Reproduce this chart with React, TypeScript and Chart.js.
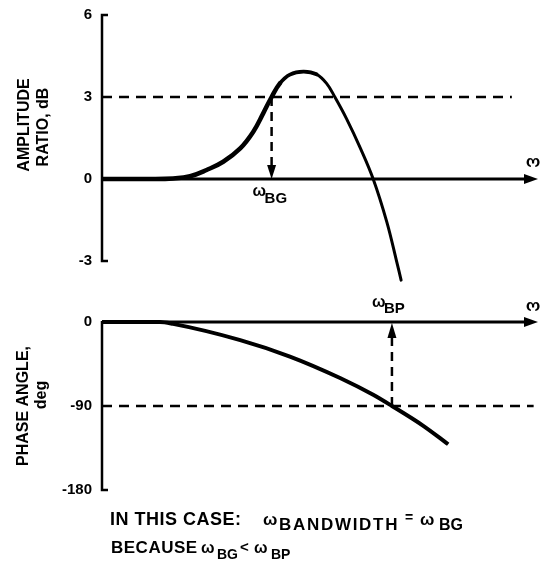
import { useEffect, useRef } from "react";
import { Chart, registerables } from "chart.js";

Chart.register(...registerables);

// ---- data ----
const omegaAmp = [0, 11.0, 16.3, 20.2, 24.0, 27.8, 31.7, 34.7, 37.0, 38.9, 40.8, 43.1, 46.2, 49.2, 51.5, 53.4, 56.1, 59.2, 62.2, 65.3, 67.6, 68.6];
const amplitudeDb = [0, 0, 0.02, 0.1, 0.33, 0.63, 1.12, 1.73, 2.41, 3.0, 3.5, 3.82, 3.93, 3.83, 3.5, 3.0, 2.2, 1.15, 0, -1.56, -3.03, -3.7];
const omegaPhase = [0, 13.3, 16.3, 31.7, 43.1, 54.6, 62.2, 66.5, 73.6, 79.4];
const phaseDeg = [0, 0, -2, -19.4, -37, -60, -78, -90, -111, -131];
const ampTicks = [6, 3, 0, -3];
const phaseTicks = [0, -90, -180];
const omegaBG = 38.9;
const omegaBP = 66.5;
const ampRef = 3;
const phaseRef = -90;
const ampRefEnd = 94;
const phaseRefEnd = 99;
const omegaMax = 100;

const FONT = "'Liberation Sans', Arial, Helvetica, sans-serif";
const TOP_OFFSET = 0;
const BOT_OFFSET = 290;

function tri(ctx: CanvasRenderingContext2D, tx: number, ty: number, dx: number, dy: number, len: number, half: number) {
  const bx = tx - dx * len;
  const by = ty - dy * len;
  const px = -dy;
  const py = dx;
  ctx.beginPath();
  ctx.moveTo(tx, ty);
  ctx.lineTo(bx + px * half, by + py * half);
  ctx.lineTo(bx - px * half, by - py * half);
  ctx.closePath();
  ctx.fill();
}

function rotText(ctx: CanvasRenderingContext2D, text: string, x: number, y: number, angle: number, size: number, baseline: CanvasTextBaseline = "alphabetic") {
  ctx.save();
  ctx.translate(x, y);
  ctx.rotate(angle);
  ctx.font = `bold ${size}px ${FONT}`;
  ctx.textAlign = "center";
  ctx.textBaseline = baseline;
  ctx.fillText(text, 0, 0);
  ctx.restore();
}

function txt(ctx: CanvasRenderingContext2D, s: string, x: number, y: number, size: number, ls = 0) {
  ctx.save();
  ctx.font = `bold ${size}px ${FONT}`;
  ctx.textAlign = "left";
  ctx.textBaseline = "alphabetic";
  (ctx as any).letterSpacing = `${ls}px`;
  ctx.fillText(s, x, y);
  ctx.restore();
}

function yAxis(ctx: CanvasRenderingContext2D, x: number, yTop: number, yBot: number, stubTop: boolean) {
  ctx.save();
  ctx.strokeStyle = "#000";
  ctx.lineWidth = 2.5;
  ctx.lineCap = "butt";
  ctx.beginPath();
  if (stubTop) {
    ctx.moveTo(x + 6, yTop);
    ctx.lineTo(x, yTop);
  } else {
    ctx.moveTo(x, yTop);
  }
  ctx.lineTo(x, yBot);
  ctx.lineTo(x + 6, yBot);
  ctx.stroke();
  ctx.restore();
}

function makeOptions(yMin: number, yMax: number, ticks: number[], padding: any) {
  return {
    responsive: false,
    maintainAspectRatio: false,
    animation: false as const,
    layout: { padding },
    plugins: { legend: { display: false }, tooltip: { enabled: false }, title: { display: false } },
    elements: { point: { radius: 0 } },
    scales: {
      x: { type: "linear" as const, min: 0, max: omegaMax, display: false },
      y: {
        type: "linear" as const,
        min: yMin,
        max: yMax,
        afterBuildTicks: (s: any) => {
          s.ticks = ticks.map((v) => ({ value: v }));
        },
        afterFit: (s: any) => {
          s.width = 102;
          s.paddingTop = 0;
          s.paddingBottom = 0;
        },
        grid: { display: false, drawTicks: false },
        border: { display: false },
        ticks: {
          color: "#000",
          padding: 10,
          font: { family: FONT, size: 15, weight: "bold" as const },
          callback: (v: any) => String(v),
        },
      },
    },
  };
}

const topPlugin = {
  id: "topDecor",
  afterDatasetsDraw(chart: any) {
    const ctx: CanvasRenderingContext2D = chart.ctx;
    const xs = chart.scales.x;
    const ys = chart.scales.y;
    const x0 = xs.getPixelForValue(0);
    const y0 = ys.getPixelForValue(0);
    ctx.save();
    ctx.fillStyle = "#000";
    yAxis(ctx, x0, ys.getPixelForValue(6), ys.getPixelForValue(-3), true);
    tri(ctx, xs.getPixelForValue(omegaMax), y0, 1, 0, 14, 5);
    tri(ctx, xs.getPixelForValue(omegaBG), y0, 0, 1, 14, 4.5);
    rotText(ctx, "ω", xs.getPixelForValue(omegaMax) - 5, y0 - 16, Math.PI, 17, "middle");
    const xb = xs.getPixelForValue(omegaBG);
    txt(ctx, "ω", xb - 19, y0 + 17, 16);
    txt(ctx, "BG", xb - 7, y0 + 24, 15);
    rotText(ctx, "AMPLITUDE", 29, 125 - TOP_OFFSET, -Math.PI / 2, 16);
    rotText(ctx, "RATIO, dB", 48, 127 - TOP_OFFSET, -Math.PI / 2, 16);
    ctx.restore();
  },
};

const botPlugin = {
  id: "botDecor",
  afterDatasetsDraw(chart: any) {
    const ctx: CanvasRenderingContext2D = chart.ctx;
    const xs = chart.scales.x;
    const ys = chart.scales.y;
    const x0 = xs.getPixelForValue(0);
    const y0 = ys.getPixelForValue(0);
    ctx.save();
    ctx.fillStyle = "#000";
    yAxis(ctx, x0, y0 - 1, ys.getPixelForValue(-180), false);
    tri(ctx, xs.getPixelForValue(omegaMax), y0, 1, 0, 14, 5);
    tri(ctx, xs.getPixelForValue(omegaBP), y0 + 1, 0, -1, 15, 4.5);
    rotText(ctx, "ω", xs.getPixelForValue(omegaMax) - 5, y0 - 15, Math.PI, 17, "middle");
    const xb = xs.getPixelForValue(omegaBP);
    txt(ctx, "ω", xb - 20, y0 - 15, 16);
    txt(ctx, "BP", xb - 8, y0 - 9, 15);
    rotText(ctx, "PHASE ANGLE,", 28, 406 - BOT_OFFSET, -Math.PI / 2, 16);
    rotText(ctx, "deg", 46, 395 - BOT_OFFSET, -Math.PI / 2, 16);
    // caption
    const l1 = 525 - BOT_OFFSET;
    const l2 = 553 - BOT_OFFSET;
    txt(ctx, "IN THIS CASE:", 110, l1, 18, 0.5);
    txt(ctx, "ω", 263, l1, 17);
    txt(ctx, "BANDWIDTH", 279, l1 + 5, 17, 1.7);
    txt(ctx, "=", 405, l1 - 3, 14);
    txt(ctx, "ω", 420, l1, 17);
    txt(ctx, "BG", 439, l1 + 5, 16);
    txt(ctx, "BECAUSE", 111, l2, 17, 0.5);
    txt(ctx, "ω", 201, l2, 16);
    txt(ctx, "BG", 217, l2 + 6, 14);
    txt(ctx, "<", 240, l2 - 1, 15);
    txt(ctx, "ω", 254, l2, 16);
    txt(ctx, "BP", 271, l2 + 6, 14);
    ctx.restore();
  },
};

function pts(xs: number[], ys: number[]) {
  return xs.map((x, i) => ({ x, y: ys[i] }));
}

export default function App() {
  const topRef = useRef<HTMLCanvasElement>(null);
  const botRef = useRef<HTMLCanvasElement>(null);

  useEffect(() => {
    const dash = [10, 7];
    const c1 = new Chart(topRef.current!, {
      type: "line",
      data: {
        datasets: [
          {
            data: pts(omegaAmp, amplitudeDb),
            borderColor: "#000",
            borderWidth: 3.5,
            tension: 0.4,
            borderJoinStyle: "round",
            borderCapStyle: "round",
            segment: { borderWidth: (c: any) => (c.p0.parsed.x < 40 ? 4.5 : c.p0.parsed.x < 47 ? 3.8 : 3) },
          } as any,
          { data: [{ x: 0, y: 0 }, { x: omegaMax - 2, y: 0 }], borderColor: "#000", borderWidth: 3 },
          { data: [{ x: 0, y: ampRef }, { x: ampRefEnd, y: ampRef }], borderColor: "#000", borderWidth: 2.5, borderDash: dash },
          { data: [{ x: omegaBG, y: ampRef }, { x: omegaBG, y: 0.45 }], borderColor: "#000", borderWidth: 2.5, borderDash: [9, 6] },
        ],
      },
      options: makeOptions(-4, 6, ampTicks, { top: 15, bottom: 1.7, left: 0, right: 5 }) as any,
      plugins: [topPlugin],
    });
    const c2 = new Chart(botRef.current!, {
      type: "line",
      data: {
        datasets: [
          {
            data: pts(omegaPhase, phaseDeg),
            borderColor: "#000",
            borderWidth: 4,
            cubicInterpolationMode: "monotone",
          } as any,
          { data: [{ x: 0, y: 0 }, { x: omegaMax - 2, y: 0 }], borderColor: "#000", borderWidth: 3 },
          { data: [{ x: 0, y: phaseRef }, { x: phaseRefEnd, y: phaseRef }], borderColor: "#000", borderWidth: 2.5, borderDash: dash },
          { data: [{ x: omegaBP, y: phaseRef }, { x: omegaBP, y: -12 }], borderColor: "#000", borderWidth: 2.5, borderDash: [9, 6] },
        ],
      },
      options: makeOptions(-190, 30, phaseTicks, { top: 4, bottom: 66.7, left: 0, right: 5 }) as any,
      plugins: [botPlugin],
    });
    return () => {
      c1.destroy();
      c2.destroy();
    };
  }, []);

  return (
    <div style={{ position: "absolute", left: 0, top: 0, width: 543, height: 566, background: "#fff" }}>
      <canvas ref={topRef} width={543} height={290} style={{ position: "absolute", left: 0, top: TOP_OFFSET, width: 543, height: 290, display: "block" }} />
      <canvas ref={botRef} width={543} height={276} style={{ position: "absolute", left: 0, top: BOT_OFFSET, width: 543, height: 276, display: "block" }} />
    </div>
  );
}
